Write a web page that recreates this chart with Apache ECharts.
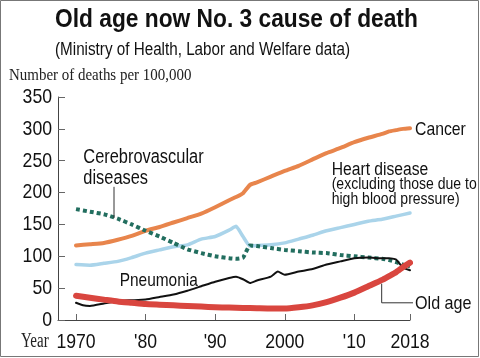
<!DOCTYPE html>
<html><head><meta charset="utf-8">
<script src="https://cdn.jsdelivr.net/npm/echarts@6/dist/echarts.min.js"></script>
<style>html,body{margin:0;padding:0;background:#fff}#c{width:480px;height:358px}</style>
</head><body><div id="c"></div>
<script>
// ---- data (deaths per 100,000) ----
const xTicks = [1970, 1980, 1990, 2000, 2010, 2018];
const xTickLabels = ['1970', "'80", "'90", '2000', "'10", '2018'];
const yTicks = [0, 50, 100, 150, 200, 250, 300, 350];

const cancerYears = [1970,1972,1974,1976,1978,1980,1982,1984,1986,1988,1990,1992,1993,1994,1995,1996,1998,2000,2002,2004,2006,2008,2010,2012,2014,2015,2016,2017,2018];
const cancer      = [117,119,121,126,132,140,146,153,160,167,177,188,193,199,212,216,225,234,242,252,262,270,279,286,292,296,298,300,301];

const heartYears = [1970,1972,1974,1976,1978,1980,1982,1984,1986,1988,1990,1992,1993,1994,1995,1996,1998,2000,2002,2004,2006,2008,2010,2012,2014,2016,2018];
const heart      = [87,86,89,92,98,105,110,115,118,127,131,141,147,131,116,117,118,121,127,133,140,145,150,155,158,163,168];

const cerebroYears = [1970,1972,1974,1976,1978,1980,1982,1984,1986,1988,1990,1992,1993,1994,1995,1996,1998,2000,2002,2004,2006,2008,2010,2012,2014,2015,2016,2017,2018];
const cerebro      = [174,170,166,159,150,140,131,121,111,105,100,97,96,98,117,116,113,110,108,106,105,102,100,98,96,94,91,87,84];

const pneumoniaYears = [1970,1971,1972,1974,1976,1978,1980,1982,1984,1986,1988,1990,1992,1993,1994,1995,1996,1998,1999,2000,2002,2004,2006,2008,2010,2012,2014,2015,2016,2017,2018];
const pneumonia      = [27,23,22,26,30,31,32,36,40,46,53,60,66,68,64,58,62,68,76,71,76,80,87,92,97,98,97,97,95,82,78];

const oldAgeYears = [1970,1972,1974,1976,1978,1980,1982,1984,1986,1988,1990,1992,1994,1996,1998,2000,2002,2004,2006,2008,2010,2012,2014,2015,2016,2017,2018];
const oldAge      = [38,35,32,29,27,25,24,23,22,21,20,19.5,19,18.5,18,18,20,23,28,35,43,53,63,69,75,83,90];

// leader lines for annotations, in data units [year, value]
const cerebroLeader = [[1975.46, 209], [1975.46, 160]];
const oldAgeLeader  = [[2013.93, 57], [2013.93, 27], [2018.43, 27]];

const pair = (xs, ys) => xs.map((x, i) => [x, ys[i]]);
const SANS = '"Liberation Sans", Arial, Helvetica, sans-serif';
const SERIF = '"Liberation Serif", "Times New Roman", serif';

const chart = echarts.init(document.getElementById('c'), null, {renderer: 'canvas'});

function lineSeries(name, xs, ys, color, width, type, z) {
  return {
    name, type: 'line', data: pair(xs, ys), showSymbol: false, symbol: 'none',
    smooth: 0.15, z,
    lineStyle: {color, width, type, cap: type === 'solid' ? 'round' : 'butt', join: 'round'}
  };
}

chart.setOption({
  animation: false,
  backgroundColor: '#fff',
  grid: {left: 58, right: 70, top: 97, bottom: 38, containLabel: false},
  xAxis: {
    type: 'value', min: 1967.41, max: 2018,
    axisLine: {lineStyle: {color: '#444', width: 1}},
    splitLine: {show: false},
    axisTick: {inside: true, length: 6, lineStyle: {color: '#666'}, customValues: xTicks},
    axisLabel: {show: false}
  },
  yAxis: {
    type: 'value', min: 0, max: 350, interval: 50,
    axisLine: {show: true, lineStyle: {color: '#444', width: 1}},
    splitLine: {show: false},
    axisTick: {show: true, inside: true, length: 7, lineStyle: {color: '#666'}},
    axisLabel: {show: false}
  },
  series: [
    lineSeries('Heart disease', heartYears, heart, '#aad4ea', 3.5, 'solid', 2),
    lineSeries('Cancer', cancerYears, cancer, '#e8854c', 4, 'solid', 3),
    lineSeries('Cerebrovascular diseases', cerebroYears, cerebro, '#226e5f', 4, [4, 3], 4),
    lineSeries('Pneumonia', pneumoniaYears, pneumonia, '#111', 2, 'solid', 5),
    lineSeries('Old age', oldAgeYears, oldAge, '#d9463f', 6, 'solid', 6)
  ]
});

const px = p => chart.convertToPixel({gridIndex: 0}, p);
// condensed text (the reference uses a condensed face): real text, horizontally scaled
function txt(text, x, y, size, sx, opts) {
  opts = opts || {};
  const align = opts.align || 'left';
  return {type: 'text', x, y, scaleX: sx, scaleY: 1, z: 20, silent: true,
    style: {text, fill: opts.fill || '#111', fontSize: size, fontWeight: opts.weight || 'normal',
      fontFamily: opts.family || SANS, textAlign: align, align: align,
      textVerticalAlign: 'middle', verticalAlign: 'middle'}};
}

const g = [
  {type: 'rect', shape: {x: 0.5, y: 0.5, width: 478, height: 356}, style: {fill: 'none', stroke: '#777', lineWidth: 1}, silent: true},
  txt('Old age now No. 3 cause of death', 55, 19.5, 26, 0.875, {weight: 'bold'}),
  txt('(Ministry of Health, Labor and Welfare data)', 55, 49.7, 17.5, 0.87),
  txt('Number of deaths per 100,000', 9, 75.8, 17, 0.88, {family: SERIF, fill: '#222'}),
  txt('Year', 21, 342, 20, 0.75, {family: SERIF, fill: '#222'}),
  txt('Cancer', 415, 130, 19, 0.83),
  txt('Heart disease', 331.7, 169.7, 18, 0.87),
  txt('(excluding those due to', 331.7, 184, 16.5, 0.85),
  txt('high blood pressure)', 331.7, 199.3, 16.5, 0.85),
  txt('Cerebrovascular', 83.3, 157.5, 20, 0.82),
  txt('diseases', 83.3, 178.3, 20, 0.82),
  txt('Pneumonia', 119.7, 280.7, 18.6, 0.83),
  txt('Old age', 415, 304, 19, 0.85),
  {type: 'polyline', z: 19, silent: true, shape: {points: cerebroLeader.map(px)}, style: {stroke: '#333', lineWidth: 1, fill: 'none'}},
  {type: 'polyline', z: 19, silent: true, shape: {points: oldAgeLeader.map(px)}, style: {stroke: '#333', lineWidth: 1, fill: 'none'}}
];
// tick labels placed through the axes' own scales
const x0 = px([1967.41, 0]);
yTicks.forEach(v => {
  const p = px([1967.41, v]);
  g.push(txt(String(v), x0[0] - 6, p[1], 21, 0.84, {align: 'right'}));
});
xTicks.forEach((v, i) => {
  const p = px([v, 0]);
  g.push(txt(xTickLabels[i], p[0], p[1] + 22.5, 21, 0.84, {align: 'center'}));
});
chart.setOption({graphic: g});
</script></body></html>
